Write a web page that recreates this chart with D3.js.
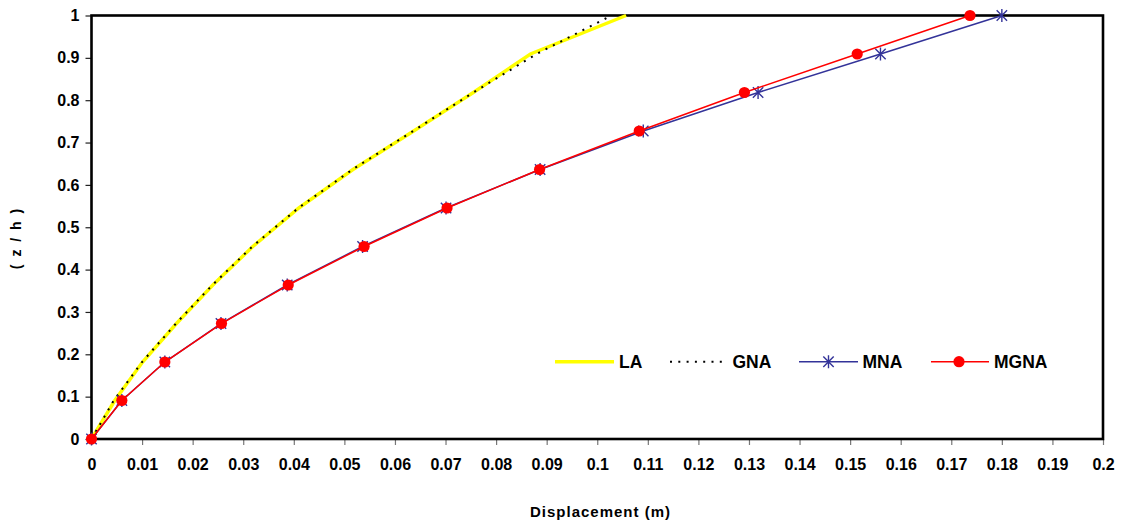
<!DOCTYPE html>
<html>
<head>
<meta charset="utf-8">
<script src="https://cdn.jsdelivr.net/npm/d3@7"></script>
<style>
  html, body { margin: 0; padding: 0; background: #fff; }
  svg { display: block; font-family: "Liberation Sans", Arial, sans-serif; font-weight: bold; }
</style>
</head>
<body>
<svg id="chart" width="1124" height="522"></svg>
<script>
// ---- data ----
const zLevels  = [0, 0.0909, 0.1818, 0.2727, 0.3636, 0.4545, 0.5455, 0.6364, 0.7273, 0.8182, 0.9091, 1];
const laDisp   = [0, 0.0046, 0.0101, 0.0168, 0.0240, 0.0319, 0.0410, 0.0517, 0.0637, 0.0755, 0.0868, 0.1057];
const gnaDisp  = [0, 0.0044, 0.0100, 0.0167, 0.0239, 0.0318, 0.0409, 0.0516, 0.0636, 0.0755, 0.0880, 0.1028];
const mnaDisp  = [0, 0.0060, 0.0145, 0.0256, 0.0387, 0.0536, 0.0701, 0.0887, 0.1091, 0.1318, 0.1560, 0.1800];
const mgnaDisp = [0, 0.0060, 0.0145, 0.0257, 0.0389, 0.0539, 0.0703, 0.0886, 0.1083, 0.1291, 0.1514, 0.1737];
const xTicks = [0, 0.01, 0.02, 0.03, 0.04, 0.05, 0.06, 0.07, 0.08, 0.09, 0.1, 0.11, 0.12, 0.13, 0.14, 0.15, 0.16, 0.17, 0.18, 0.19, 0.2];
const yTicks = [0, 0.1, 0.2, 0.3, 0.4, 0.5, 0.6, 0.7, 0.8, 0.9, 1];
const seriesNames = ["LA", "GNA", "MNA", "MGNA"];

// ---- layout ----
const svg = d3.select("#chart");
const L = 91.5, R = 1103, T = 15.5, B = 439;
const x = d3.scaleLinear().domain([0, 0.2]).range([L, R]);
const y = d3.scaleLinear().domain([0, 1]).range([B, T]);

// axes ticks
const gx = svg.append("g").attr("transform", `translate(0,${B})`)
  .call(d3.axisBottom(x).tickValues(xTicks).tickSize(6).tickPadding(14).tickFormat(d => String(+d.toFixed(2))));
gx.select(".domain").remove();
gx.selectAll("line").attr("stroke", "#777").attr("stroke-width", 1.2);
gx.selectAll("text").attr("font-size", 16).attr("font-weight", "bold").attr("fill", "#000")
  .attr("font-family", "'Liberation Sans', Arial, sans-serif");

const gy = svg.append("g").attr("transform", `translate(${L},0)`)
  .call(d3.axisLeft(y).tickValues(yTicks).tickSize(6).tickPadding(6).tickFormat(d => String(+d.toFixed(1))));
gy.select(".domain").remove();
gy.selectAll("line").attr("stroke", "#222").attr("stroke-width", 1.2);
gy.selectAll("text").attr("font-size", 16).attr("font-weight", "bold").attr("fill", "#000")
  .attr("font-family", "'Liberation Sans', Arial, sans-serif");

// frame
svg.append("rect").attr("x", L).attr("y", T).attr("width", R - L).attr("height", B - T)
  .attr("fill", "none").attr("stroke", "#000").attr("stroke-width", 2.6);

// lines
const line = d3.line().x(d => x(d[0])).y(d => y(d[1]));
const pts = arr => arr.map((v, i) => [v, zLevels[i]]);

svg.append("path").attr("d", line(pts(laDisp))).attr("fill", "none")
  .attr("stroke", "#ffff00").attr("stroke-width", 3.5);
svg.append("path").attr("d", line(pts(gnaDisp))).attr("fill", "none")
  .attr("stroke", "#000").attr("stroke-width", 2).attr("stroke-dasharray", "2,6.3");
svg.append("path").attr("d", line(pts(mnaDisp))).attr("fill", "none")
  .attr("stroke", "#333399").attr("stroke-width", 1.5);

function star(g, cx, cy) {
  const s = 6.5, d = 5.2;
  g.append("path")
    .attr("d", `M${cx},${cy - s}L${cx},${cy + s}M${cx - d},${cy - d}L${cx + d},${cy + d}M${cx - d},${cy + d}L${cx + d},${cy - d}`)
    .attr("stroke", "#333399").attr("stroke-width", 1.4).attr("fill", "none");
}
const gStar = svg.append("g");
pts(mnaDisp).forEach(p => star(gStar, x(p[0]), y(p[1])));

svg.append("path").attr("d", line(pts(mgnaDisp))).attr("fill", "none")
  .attr("stroke", "#ff0000").attr("stroke-width", 1.5);
svg.append("g").selectAll("circle").data(pts(mgnaDisp)).join("circle")
  .attr("cx", d => x(d[0])).attr("cy", d => y(d[1])).attr("r", 5.6).attr("fill", "#ff0000");

// legend
const ly = 361.7;
const lg = svg.append("g");
lg.append("line").attr("x1", 555).attr("x2", 614).attr("y1", ly).attr("y2", ly)
  .attr("stroke", "#ffff00").attr("stroke-width", 3.5);
lg.append("line").attr("x1", 670).attr("x2", 724).attr("y1", ly).attr("y2", ly)
  .attr("stroke", "#000").attr("stroke-width", 2).attr("stroke-dasharray", "2,6.3");
lg.append("line").attr("x1", 799).attr("x2", 858).attr("y1", ly).attr("y2", ly)
  .attr("stroke", "#333399").attr("stroke-width", 1.5);
star(lg, 828.5, ly);
lg.append("line").attr("x1", 931).attr("x2", 989).attr("y1", ly).attr("y2", ly)
  .attr("stroke", "#ff0000").attr("stroke-width", 1.5);
lg.append("circle").attr("cx", 959).attr("cy", ly).attr("r", 5.6).attr("fill", "#ff0000");
const legX = [619, 732.5, 862.5, 994];
seriesNames.forEach((n, i) => {
  lg.append("text").attr("x", legX[i]).attr("y", ly + 6).attr("font-size", 17.5)
    .attr("font-weight", "bold").text(n);
});

// axis titles
svg.append("text").attr("x", 600.5).attr("y", 516.7).attr("text-anchor", "middle")
  .attr("font-size", 15).attr("letter-spacing", 1).text("Displacement (m)");
svg.append("text").attr("transform", "translate(21,238) rotate(-90)").attr("text-anchor", "middle")
  .attr("font-size", 14).attr("letter-spacing", 2).text("( z / h )");
</script>
</body>
</html>
